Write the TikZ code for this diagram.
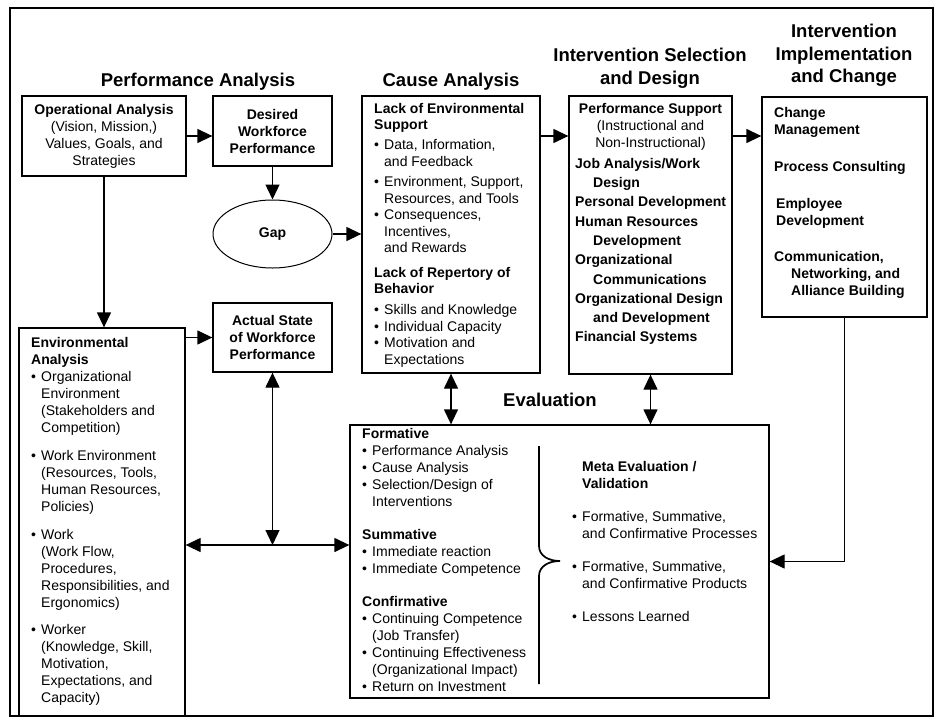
\documentclass[tikz,border=0pt]{standalone}
\usepackage{fontspec}
\setmainfont{Liberation Sans}
\usetikzlibrary{arrows.meta,shapes.geometric,calc}

\newcommand{\bodyfont}{\fontsize{14}{17}\selectfont}
\newcommand{\titlefont}{\fontsize{18.5}{22.5}\selectfont\bfseries}
\newcommand{\bul}{\makebox[10pt][l]{\textbullet}}
\newcommand{\ind}{\hspace*{10pt}}

\begin{document}
\begin{tikzpicture}[x=1pt,y=-1pt]

\useasboundingbox (0,0) rectangle (939,720);

% set styles here
\tikzstyle{box}=[draw,rectangle,line width=1.3pt,inner sep=0pt,align=center,font=\bodyfont]
\tikzstyle{txt}=[anchor=north west,inner sep=0pt,align=left,font=\bodyfont]
\tikzstyle{title}=[anchor=north,inner sep=0pt,align=center,font=\titlefont]
\tikzstyle{arr}=[line width=1.3pt,-{Triangle[length=15pt,width=14pt]}]
\tikzstyle{dbl}=[line width=1.3pt,{Triangle[length=15pt,width=14pt]}-{Triangle[length=15pt,width=14pt]}]

\draw[line width=2.8pt] (10,8) rectangle (933,716);

% headings
\node (tPA) at (198,71) [title] {\strut Performance Analysis};
\node (tCA) at (451,71) [title] {\strut Cause Analysis};
\node (tISD) at (650,46) [title] {\strut Intervention Selection\\and Design};
\node (tIIC) at (844,22) [title] {\strut Intervention\\Implementation\\and Change};
\node (tEV) at (550,391) [title] {\strut Evaluation};

% performance analysis
\node (opa) at (104,136) [box,minimum width=164pt,minimum height=80pt]
  {\textbf{Operational Analysis}\\(Vision, Mission,)\\Values, Goals, and\\Strategies};
\node (dwp) at (272.5,131) [box,minimum width=119pt,minimum height=70pt,font=\bodyfont\bfseries]
  {Desired\\Workforce\\Performance};
\node (gap) at (272.5,234) [box,ellipse,line width=1pt,minimum width=119pt,minimum height=68pt,font=\bodyfont\bfseries] {Gap};
\node (asp) at (272.5,337.5) [box,minimum width=119pt,minimum height=69pt,font=\bodyfont\bfseries]
  {Actual State\\of Workforce\\Performance};
\node (env) at (102,522) [box,minimum width=166pt,minimum height=388pt] {};
\node (envTxt) at (31,335) [txt]
  {\strut\textbf{Environmental}\\
   \textbf{Analysis}\\
   \bul Organizational\\
   \ind Environment\\
   \ind (Stakeholders and\\
   \ind Competition)\\[11pt]
   \bul Work Environment\\
   \ind (Resources, Tools,\\
   \ind Human Resources,\\
   \ind Policies)\\[11pt]
   \bul Work\\
   \ind (Work Flow,\\
   \ind Procedures,\\
   \ind Responsibilities, and\\
   \ind Ergonomics)\\[10pt]
   \bul Worker\\
   \ind (Knowledge, Skill,\\
   \ind Motivation,\\
   \ind Expectations, and\\
   \ind Capacity)};

% cause analysis
\node (ca) at (451,234.5) [box,minimum width=178pt,minimum height=277pt] {};
\node (caTxt) at (374,101.5) [txt,font=\fontsize{14}{16.5}\selectfont]
  {\strut\textbf{Lack of Environmental}\\
   \textbf{Support}\\[3.5pt]
   \bul Data, Information,\\
   \ind and Feedback\\[4pt]
   \bul Environment, Support,\\
   \ind Resources, and Tools\\
   \bul Consequences,\\
   \ind Incentives,\\
   \ind and Rewards\\[8pt]
   \textbf{Lack of Repertory of}\\
   \textbf{Behavior}\\[4.5pt]
   \bul Skills and Knowledge\\
   \bul Individual Capacity\\
   \bul Motivation and\\
   \ind Expectations};

% intervention selection and design
\node (isd) at (650.5,235) [box,minimum width=163pt,minimum height=278pt] {};
\node (isdHd) at (650.5,101) [txt,anchor=north,align=center]
  {\strut\textbf{Performance Support}\\(Instructional and\\Non-Instructional)};
\node (isdTxt) at (575,154.5) [txt,font=\fontsize{14}{19.3}\selectfont\bfseries]
  {\strut Job Analysis/Work\\
   \hspace*{18pt}Design\\
   Personal Development\\
   Human Resources\\
   \hspace*{18pt}Development\\
   Organizational\\
   \hspace*{18pt}Communications\\
   Organizational Design\\
   \hspace*{18pt}and Development\\
   Financial Systems};

% implementation and change
\node (iic) at (844.5,207) [box,minimum width=165pt,minimum height=220pt] {};
\node (iicTxt) at (774,105) [txt,font=\bodyfont\bfseries]
  {\strut Change\\
   Management\\[20pt]
   Process Consulting\\[20pt]
   \hspace*{2pt}Employee\\
   \hspace*{2pt}Development\\[19pt]
   Communication,\\
   \hspace*{17pt}Networking, and\\
   \hspace*{17pt}Alliance Building};

% evaluation
\node (ev) at (559.5,561.5) [box,minimum width=419pt,minimum height=273pt] {};
\node (evTxt) at (362,426) [txt]
  {\strut\textbf{Formative}\\
   \bul Performance Analysis\\
   \bul Cause Analysis\\
   \bul Selection/Design of\\
   \ind Interventions\\[16pt]
   \textbf{Summative}\\
   \bul Immediate reaction\\
   \bul Immediate Competence\\[16pt]
   \textbf{Confirmative}\\
   \bul Continuing Competence\\
   \ind (Job Transfer)\\
   \bul Continuing Effectiveness\\
   \ind (Organizational Impact)\\
   \bul Return on Investment};
\node (metaTxt) at (572,459) [txt]
  {\strut\ind\textbf{Meta Evaluation /}\\
   \ind\textbf{Validation}\\[16pt]
   \bul Formative, Summative,\\
   \ind and Confirmative Processes\\[16pt]
   \bul Formative, Summative,\\
   \ind and Confirmative Products\\[16pt]
   \bul Lessons Learned};
\draw[line width=1.7pt] (539,446) -- (539,546) .. controls (539,556) and (549,561) .. (560,561)
  .. controls (549,561) and (539,566) .. (539,576) -- (539,684);

% connectors
\draw[arr] (opa.east) -- (opa.east -| dwp.west);
\draw[arr] (dwp.south) -- (gap.north);
\draw[arr] (gap.east) -- (gap.east -| ca.west);
\draw[arr] (opa.south) -- (opa.south |- env.north);
\draw[arr] (env.east |- asp.west) -- (asp.west);
\coordinate (hub) at (272.5,545);
\draw[dbl] (env.east |- hub) -- (ev.west |- hub);
\draw[dbl] (asp.south) -- (hub);
\draw[arr] (ca.east |- opa.east) -- (isd.west |- opa.east);
\draw[arr] (isd.east |- opa.east) -- (iic.west |- opa.east);
\draw[dbl] (ca.south) -- (ca.south |- ev.north);
\draw[dbl] (isd.south) -- (isd.south |- ev.north);
\draw[arr] (iic.south) |- (ev.east);

\end{tikzpicture}
\end{document}
